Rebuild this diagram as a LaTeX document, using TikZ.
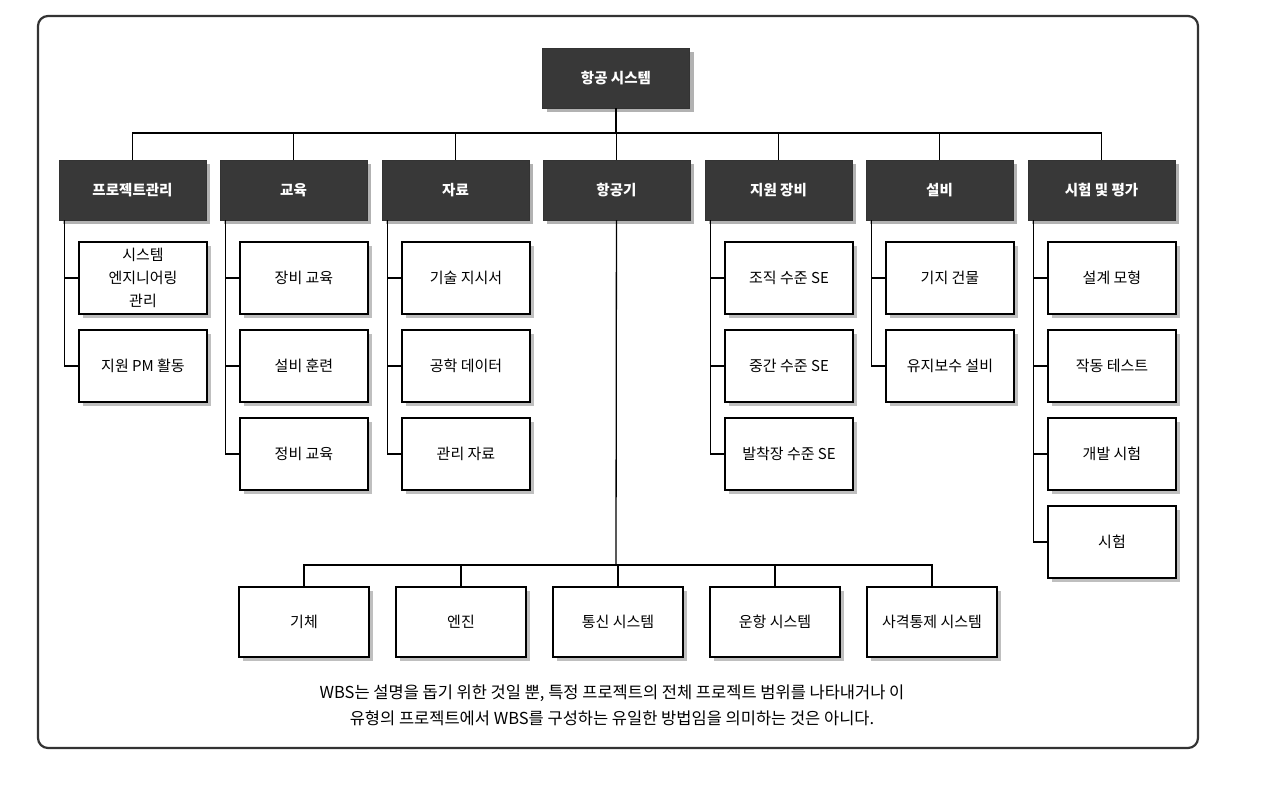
\documentclass[tikz,border=0pt]{standalone}
\usepackage{fontspec}
\setmainfont{Noto Sans CJK KR}
\usetikzlibrary{shadows}

\begin{document}
\begin{tikzpicture}[x=1pt, y=-1pt,
    every node/.style={font=\fontsize{15}{23}\selectfont},
    head/.style={draw=black!80, fill=black!78, text=white, font=\fontsize{14.5}{23}\selectfont\bfseries,
        minimum width=147pt, minimum height=60pt,
        drop shadow={fill=black!30, opacity=1, shadow xshift=4pt, shadow yshift=-4pt}},
    leaf/.style={draw=black, line width=1.4pt, fill=white, align=center,
        minimum width=128pt, minimum height=72pt,
        drop shadow={fill=black!25, opacity=1, shadow xshift=4pt, shadow yshift=-4pt}},
    part/.style={leaf, minimum width=130pt, minimum height=70pt},
    link/.style={line width=1.3pt}]

    \useasboundingbox (0, 0) rectangle (1276, 784);
    \draw [black!80, line width=2.2pt, rounded corners=10pt] (38, 16) rectangle (1198, 748);

    \node [head] (s) at (616, 78) {항공 시스템};

    \node [head] (a) at (132.5, 190) {프로젝트관리};
    \node [head] (b) at (293.5, 190) {교육};
    \node [head] (c) at (455.5, 190) {자료};
    \node [head] (d) at (616.5, 190) {항공기};
    \node [head] (e) at (778.5, 190) {지원 장비};
    \node [head] (f) at (939.5, 190) {설비};
    \node [head] (g) at (1101.5, 190) {시험 및 평가};

    \node [leaf] (a1) at (143, 278) {시스템\\엔지니어링\\관리};
    \node [leaf] (a2) at (143, 366) {지원 PM 활동};
    \node [leaf] (b1) at (304, 278) {장비 교육};
    \node [leaf] (b2) at (304, 366) {설비 훈련};
    \node [leaf] (b3) at (304, 454) {정비 교육};
    \node [leaf] (c1) at (466, 278) {기술 지시서};
    \node [leaf] (c2) at (466, 366) {공학 데이터};
    \node [leaf] (c3) at (466, 454) {관리 자료};
    \node [leaf] (e1) at (789, 278) {조직 수준 SE};
    \node [leaf] (e2) at (789, 366) {중간 수준 SE};
    \node [leaf] (e3) at (789, 454) {발착장 수준 SE};
    \node [leaf] (f1) at (950, 278) {기지 건물};
    \node [leaf] (f2) at (950, 366) {유지보수 설비};
    \node [leaf] (g1) at (1112, 278) {설계 모형};
    \node [leaf] (g2) at (1112, 366) {작동 테스트};
    \node [leaf] (g3) at (1112, 454) {개발 시험};
    \node [leaf] (g4) at (1112, 542) {시험};

    \node [part] (d1) at (304, 622) {기체};
    \node [part] (d2) at (461, 622) {엔진};
    \node [part] (d3) at (618, 622) {통신 시스템};
    \node [part] (d4) at (775, 622) {운항 시스템};
    \node [part] (d5) at (932, 622) {사격통제 시스템};

    \node (note) at (612, 705) [align=center, font=\fontsize{16.5}{26}\selectfont]
        {WBS는 설명을 돕기 위한 것일 뿐, 특정 프로젝트의 전체 프로젝트 범위를 나타내거나 이\\
         유형의 프로젝트에서 WBS를 구성하는 유일한 방법임을 의미하는 것은 아니다.};

    \coordinate (top) at (616, 133);
    \coordinate (low) at (616, 565);

    \draw [link] (s) -- (top);
    \foreach \n in {a,b,c,d,e,f,g}
        \draw [link] (top) -| (\n);

    \foreach \p/\k in {a/a1,a/a2,b/b1,b/b2,b/b3,c/c1,c/c2,c/c3,e/e1,e/e2,e/e3,f/f1,f/f2,g/g1,g/g2,g/g3,g/g4}
        \draw [link] ([xshift=6pt]\p.south west) |- (\k);

    \draw [link] (d) -- (low);
    \foreach \n in {d1,d2,d3,d4,d5}
        \draw [link] (low) -| (\n);

\end{tikzpicture}
\end{document}
